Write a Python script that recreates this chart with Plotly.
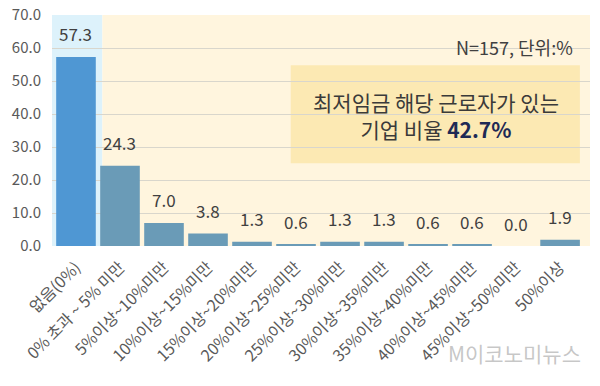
import plotly.graph_objects as go

categories = ["없음(0%)", "0% 초과 ~ 5% 미만", "5%이상~10%미만", "10%이상~15%미만",
              "15%이상~20%미만", "20%이상~25%미만", "25%이상~30%미만", "30%이상~35%미만",
              "35%이상~40%미만", "40%이상~45%미만", "45%이상~50%미만", "50%이상"]
values = [57.3, 24.3, 7.0, 3.8, 1.3, 0.6, 1.3, 1.3, 0.6, 0.6, 0.0, 1.9]
y_ticks = [0, 10, 20, 30, 40, 50, 60, 70]

bar_colors = ["#4f97d3"] + ["#6a9bb7"] * (len(values) - 1)
xs = list(range(len(categories)))
FONT = "Noto Sans CJK KR"

fig = go.Figure()
fig.add_trace(go.Bar(
    x=xs, y=values, marker=dict(color=bar_colors, line=dict(width=0)),
    width=0.9, hoverinfo="skip",
))

for i, v in enumerate(values):
    fig.add_annotation(x=i, y=v, text=f"{v:.1f}", showarrow=False,
                       yshift=23, yanchor="middle",
                       font=dict(size=17, color="#404040", family=FONT))

# backgrounds
fig.add_shape(type="rect", xref="x", yref="y", x0=-0.545, x1=0.6, y0=0, y1=70,
              fillcolor="#ddf2fb", line=dict(width=0), layer="below")
fig.add_shape(type="rect", xref="x", yref="y", x0=0.6, x1=11.68, y0=0, y1=70,
              fillcolor="#fff5de", line=dict(width=0), layer="below")
fig.add_shape(type="rect", xref="x", yref="y", x0=4.88, x1=11.45, y0=25.1, y1=54.8,
              fillcolor="#fce9b3", line=dict(width=0), layer="below")

fig.add_annotation(x=8.17, y=39.6, xref="x", yref="y", showarrow=False,
                   text="최저임금 해당 근로자가 있는<br>기업 비율 <b><span style='color:#1f2a55'>42.7%</span></b>",
                   yanchor="middle", align="center",
                   font=dict(size=21, color="#3a3a3a", family=FONT))
fig.add_annotation(x=11.35, y=60.4, xref="x", yref="y", showarrow=False,
                   text="N=157, 단위:%", xanchor="right", yanchor="middle",
                   font=dict(size=18, color="#404040", family=FONT))
fig.add_annotation(x=0.987, y=-0.463, xref="paper", yref="paper", showarrow=False,
                   text="M이코노미뉴스", xanchor="right", yanchor="middle",
                   font=dict(size=21, color="rgba(150,150,150,0.55)", family=FONT))

fig.update_layout(
    width=600, height=386,
    margin=dict(l=52, r=10, t=15, b=140, autoexpand=False),
    paper_bgcolor="white", plot_bgcolor="white",
    showlegend=False,
    bargap=0.09,
    xaxis=dict(range=[-0.545, 11.68], tickmode="array", tickvals=xs, ticktext=categories,
               tickangle=-45, showgrid=False, zeroline=False, showline=False,
               automargin=False, ticklabelstandoff=8,
               tickfont=dict(size=16, color="#595959", family=FONT)),
    yaxis=dict(range=[0, 70], tickmode="array", tickvals=y_ticks,
               ticktext=[f"{t:.1f}" for t in y_ticks],
               showgrid=True, gridcolor="#d9d6cc", gridwidth=1, zeroline=False,
               showline=False, ticks="", ticklabelstandoff=10, automargin=False,
               ticklabeloverflow="allow",
               tickfont=dict(size=15, color="#595959", family=FONT)),
)

fig.write_html("out.html", config={"displayModeBar": False},
               post_script="document.body.style.margin='0';")
